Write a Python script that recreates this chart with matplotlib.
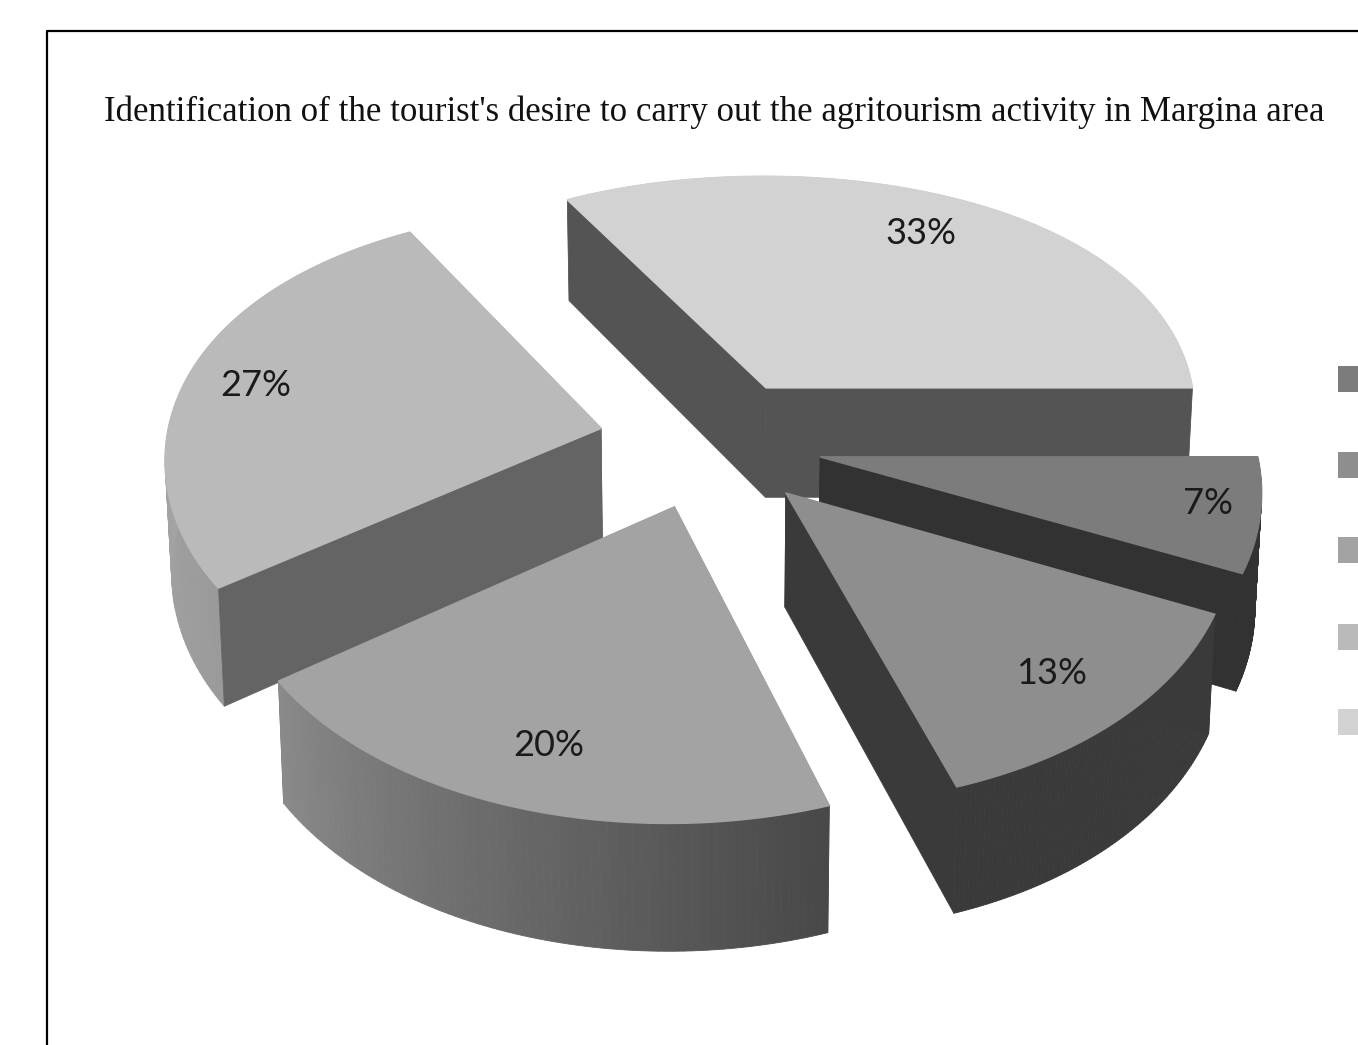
import numpy as np
import matplotlib.pyplot as plt
from matplotlib.colors import to_rgb
from matplotlib.patches import Polygon, Rectangle

# Values, going clockwise from 3 o'clock
percent = [7, 13, 20, 27, 33]
labels = ['7%', '13%', '20%', '27%', '33%']
title = "Identification of the tourist's desire to carry out the agritourism activity in Margina area"

# Styles per slice
top_colors = ['#7c7c7c', '#8e8e8e', '#a3a3a3', '#bababa', '#d2d2d2']
cut_colors = ['#323232', '#3a3a3a', '#6a6a6a', '#646464', '#545454']
wall_start = ['#323232', '#3a3a3a', '#484848', '#9a9a9a', '#a0a0a0']
wall_end = ['#323232', '#3a3a3a', '#8a8a8a', '#b4b4b4', '#a0a0a0']
label_pos = [(1208, 504), (1052, 673), (549, 745), (256, 385), (921, 233)]
legend_y = [379, 465, 550, 637, 722]

# Pie projection, in pixels of the 1358x1045 image
cx, cy = 710, 442.5
a, b = 435, 254
k = 0.136
depth = 112
explode = 0.258


def project(X, Y, z=0.0):
    Y = np.asarray(Y)
    wx = 1 / (1 + 0.098 * Y - 0.0324 * Y ** 2)
    wy = 1 / (1 + k * Y)
    wz = 1 / (1 + 0.1 * Y)
    sx = cx + a * np.asarray(X) * wx * (1 - 0.012 * z)
    sy = cy - b * Y * wy + depth * z * wz
    return np.column_stack([sx, sy])


fig = plt.figure(figsize=(13.58, 10.45), dpi=100)
ax = fig.add_axes([0, 0, 1, 1])
ax.set_xlim(0, 1358)
ax.set_ylim(1045, 0)
ax.axis('off')

# Build the slices from the values
slices = []
start = 0.0
for i, v in enumerate(percent):
    end = start - v * 3.6
    mid = np.radians((start + end) / 2)
    tx, ty = explode * np.cos(mid), explode * np.sin(mid)
    slices.append((ty, i, np.radians(start), np.radians(end), tx))
    start = end

# Back slices first
slices.sort(key=lambda s: -s[0])
zo = 1


def cut_face(tx, ty, ex, ey, color):
    global zo
    up = project([tx, ex], [ty, ey], 0)
    down = project([tx, ex], [ty, ey], 1)
    ax.add_patch(Polygon(np.vstack([up, down[::-1]]), facecolor=color, edgecolor=color, lw=0.5, zorder=zo))
    zo += 1


for ty, i, t1, t2, tx in slices:
    t = np.linspace(t1, t2, 80)
    X = tx + np.cos(t)
    Y = ty + np.sin(t)

    # cut faces turned away from the viewer go behind the wall.
    # t1 is the clockwise-start edge (outward = +90deg), t2 the other one
    visible_start = np.cos(t1) < 0
    visible_end = np.cos(t2) > 0
    if not visible_start:
        cut_face(tx, ty, X[0], Y[0], cut_colors[i])
    if not visible_end:
        cut_face(tx, ty, X[-1], Y[-1], cut_colors[i])

    # outer wall, in small strips so the shading can change along the arc
    c1, c2 = np.array(to_rgb(wall_start[i])), np.array(to_rgb(wall_end[i]))
    for j in range(len(t) - 1):
        f = j / (len(t) - 2)
        col = c1 * (1 - f) + c2 * f
        up = project(X[j:j + 2], Y[j:j + 2], 0)
        down = project(X[j:j + 2], Y[j:j + 2], 1)
        ax.add_patch(Polygon(np.vstack([up, down[::-1]]), facecolor=col, edgecolor=col, lw=0.6, zorder=zo))
    zo += 1

    if visible_start:
        cut_face(tx, ty, X[0], Y[0], cut_colors[i])
    if visible_end:
        cut_face(tx, ty, X[-1], Y[-1], cut_colors[i])

    # top face, the thicker edge hides the hairline of the cut faces behind it
    top = project(np.r_[tx, X], np.r_[ty, Y], 0)
    ax.add_patch(Polygon(top, facecolor=top_colors[i], edgecolor=top_colors[i], lw=1.2, zorder=zo))
    zo += 1

for lab, (lx, ly) in zip(labels, label_pos):
    ax.text(lx, ly, lab, fontsize=26, family='Lato', color='#1a1a1a', ha='center', va='center', zorder=zo)

# Legend markers, the text is cut off at the image edge
for i, ly in enumerate(legend_y):
    ax.add_patch(Rectangle((1338, ly - 13), 22, 26, facecolor=top_colors[i], edgecolor='none', zorder=zo))

# Chart frame, runs off the right and bottom of the image
ax.plot([47, 47, 1358], [1045, 31, 31], color='black', lw=1.6, zorder=zo)

ax.text(714, 112, title, fontsize=25.1, family='Liberation Serif', color='#111111', ha='center', va='center', zorder=zo)

fig.savefig('out.png', dpi=100)
